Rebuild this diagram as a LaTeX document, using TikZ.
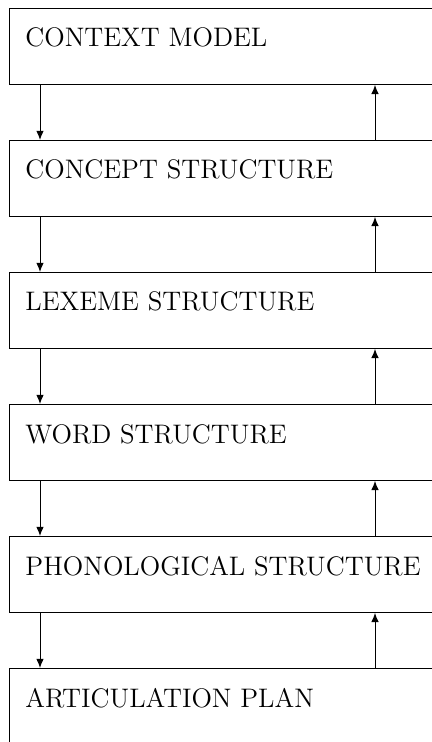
\documentclass[tikz,border=0pt]{standalone}
\usetikzlibrary{arrows.meta,calc}
\begin{document}
\begin{tikzpicture}[
  levelbox/.style={draw, line width=0.45pt, rectangle, anchor=north west,
    minimum width=240pt, minimum height=38pt, inner sep=0pt},
  leveltext/.style={anchor=base west, inner sep=0pt, font=\fontsize{13.4}{16}\selectfont},
  flow/.style={line width=0.5pt, -{Latex[length=4.6pt,width=3.8pt]}}
]
\useasboundingbox (0,0) rectangle (216pt,-371pt);
\foreach \i/\t in {1/CONTEXT MODEL,2/CONCEPT STRUCTURE,3/LEXEME STRUCTURE,4/WORD STRUCTURE,5/PHONOLOGICAL STRUCTURE,6/ARTICULATION PLAN}{
  \node[levelbox] (b\i) at (4.25pt,{-4pt-66pt*(\i-1)}) {};
  \node[leveltext] (t\i) at ($(b\i.north west)+(8.25pt,-19.5pt)$) {\t};
}
\foreach \i [evaluate=\i as \j using int(\i+1)] in {1,...,5}{
  \draw[flow] ($(b\i.south west)+(15.75pt,0)$) -- ($(b\j.north west)+(15.75pt,0)$);
  \draw[flow] ($(b\j.north west)+(183.25pt,0)$) -- ($(b\i.south west)+(183.25pt,0)$);
}
\end{tikzpicture}
\end{document}
